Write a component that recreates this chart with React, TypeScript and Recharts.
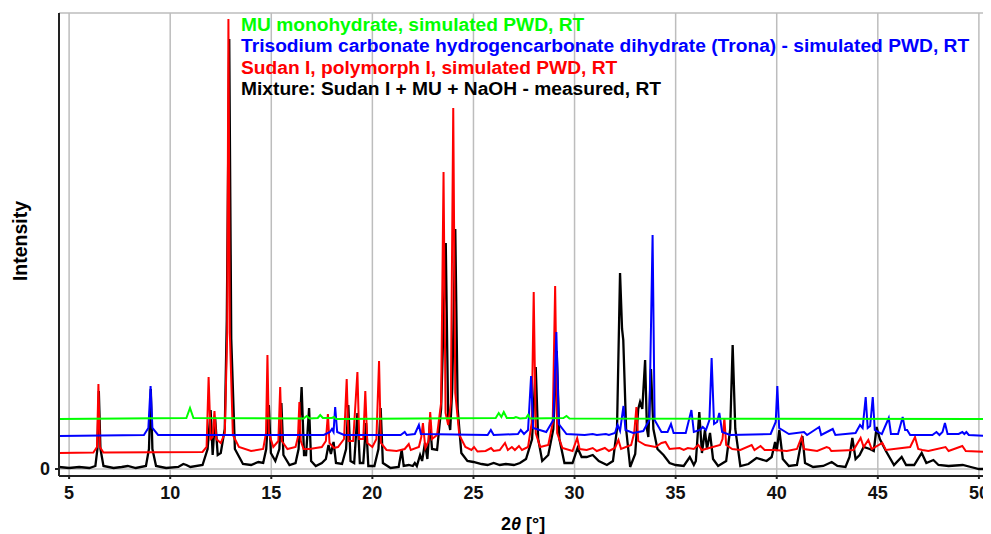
import { LineChart, Line, XAxis, YAxis, CartesianGrid } from "recharts";

// [2θ, intensity] pairs; each trace keeps its own zero
const mixturePeaks: number[][] = [
  [4.5, 2], [5.0, 1], [5.5, 2], [6.0, 1], [6.3, 3], [6.4, 20], [6.47, 78], [6.55, 20], [6.7, 3],
  [7.2, 1], [7.6, 2], [7.9, 3], [8.3, 1], [8.8, 3], [8.95, 20], [9.04, 80], [9.12, 20], [9.3, 3],
  [9.8, 1], [10.4, 2], [10.65, 5], [10.8, 4], [11.0, 2], [11.6, 4], [11.85, 20], [12.0, 59],
  [12.1, 14], [12.22, 52], [12.35, 14], [12.5, 16], [12.7, 40], [12.8, 150], [12.92, 430],
  [13.02, 130], [13.2, 20], [13.6, 5], [14.0, 4], [14.36, 7], [14.6, 6], [14.75, 20], [14.88, 64],
  [14.98, 16], [15.2, 8], [15.4, 20], [15.5, 66], [15.6, 14], [15.9, 4], [16.2, 6], [16.35, 20],
  [16.5, 82], [16.62, 14], [16.72, 14], [16.87, 61], [16.97, 8], [17.2, 3], [17.5, 6], [17.7, 10],
  [17.83, 24], [17.95, 15], [18.08, 27], [18.2, 6], [18.5, 5], [18.7, 20], [18.81, 64], [18.92, 8],
  [19.1, 6], [19.26, 56], [19.38, 6], [19.55, 6], [19.69, 46], [19.8, 3], [20.1, 3], [20.3, 20],
  [20.41, 61], [20.52, 6], [20.9, 1], [21.3, 2], [21.45, 19], [21.55, 3], [21.8, 4], [22.0, 3],
  [22.1, 6], [22.2, 3], [22.36, 14], [22.46, 8], [22.6, 26], [22.72, 10], [22.85, 47], [22.95, 20],
  [23.2, 19], [23.4, 60], [23.63, 226], [23.75, 50], [23.85, 39], [23.95, 80], [24.1, 240],
  [24.22, 60], [24.4, 16], [24.7, 8], [25.0, 7], [25.4, 5], [25.7, 4], [26.0, 6], [26.3, 4],
  [26.6, 5], [27.0, 4], [27.3, 6], [27.6, 10], [27.9, 30], [28.08, 102], [28.2, 30], [28.4, 8],
  [28.7, 14], [28.95, 40], [29.12, 118], [29.25, 30], [29.5, 6], [29.9, 6], [30.15, 21],
  [30.35, 12], [30.6, 12], [30.9, 14], [31.2, 8], [31.6, 4], [31.9, 8], [32.1, 40], [32.25, 196],
  [32.35, 140], [32.41, 129], [32.55, 40], [32.75, 2], [33.0, 15], [33.15, 60], [33.24, 67],
  [33.35, 60], [33.49, 109], [33.58, 40], [33.65, 32], [33.78, 100], [33.9, 40], [34.1, 20],
  [34.4, 14], [34.7, 6], [35.0, 4], [35.4, 3], [35.7, 12], [35.9, 4], [36.0, 8], [36.17, 57],
  [36.3, 16], [36.45, 39], [36.55, 20], [36.7, 36], [36.85, 10], [37.1, 3], [37.5, 8], [37.7, 40],
  [37.82, 124], [37.95, 40], [38.2, 3], [38.6, 5], [39.0, 11], [39.5, 8], [39.75, 12], [39.92, 27],
  [40.0, 18], [40.13, 39], [40.3, 10], [40.6, 3], [41.0, 4], [41.27, 33], [41.4, 6], [41.8, 2],
  [42.3, 3], [42.72, 7], [43.0, 3], [43.4, 2], [43.6, 12], [43.74, 31], [43.9, 10], [44.1, 14],
  [44.3, 22], [44.6, 20], [44.8, 18], [44.94, 42], [45.1, 30], [45.4, 18], [45.8, 4], [46.18, 12],
  [46.4, 4], [46.8, 4], [47.17, 16], [47.4, 6], [47.75, 9], [48.0, 4], [48.5, 3], [49.2, 4],
  [49.6, 2], [50.0, 0], [50.45, 0],
];

const sudanPeaks: number[][] = [
  [4.5, 0], [6.2, 0.5], [6.38, 6], [6.45, 69], [6.52, 6], [6.7, 0.5], [11.6, 1], [11.8, 6],
  [11.9, 76], [12.0, 14], [12.1, 16], [12.19, 42], [12.28, 14], [12.5, 10], [12.7, 20],
  [12.82, 120], [12.88, 434], [12.95, 120], [13.1, 18], [13.4, 6], [14.0, 2], [14.6, 4],
  [14.74, 20], [14.81, 98], [14.88, 20], [15.1, 6], [15.35, 12], [15.44, 66], [15.52, 12],
  [15.8, 4], [16.2, 6], [16.32, 16], [16.39, 51], [16.46, 12], [16.6, 4], [16.9, 4], [17.2, 5],
  [17.5, 6], [17.7, 12], [17.8, 39], [17.88, 10], [18.1, 5], [18.3, 6], [18.6, 14], [18.73, 74],
  [18.82, 12], [19.05, 12], [19.26, 81], [19.35, 14], [19.55, 14], [19.65, 62], [19.75, 10],
  [20.0, 6], [20.2, 14], [20.33, 92], [20.42, 10], [20.7, 3], [21.2, 2], [21.6, 4], [21.8, 9],
  [21.9, 3], [22.3, 6], [22.42, 16], [22.5, 30], [22.62, 5], [22.78, 12], [22.86, 41],
  [22.95, 14], [23.2, 18], [23.4, 50], [23.52, 281], [23.62, 40], [23.75, 28], [23.88, 50],
  [24.0, 345], [24.1, 60], [24.3, 18], [24.6, 6], [24.9, 3], [25.03, 6], [25.2, 1.5], [25.6, 2],
  [25.87, 5], [26.0, 2], [26.3, 3], [26.56, 10], [26.7, 3], [26.9, 6], [27.05, 3], [27.25, 7],
  [27.4, 3], [27.7, 6], [27.88, 30], [27.98, 161], [28.08, 20], [28.3, 6], [28.7, 8], [28.92, 30],
  [29.04, 167], [29.14, 20], [29.4, 5], [29.9, 2], [30.13, 15], [30.25, 4], [30.6, 3], [30.9, 5],
  [31.1, 2], [31.5, 5], [31.7, 2], [32.0, 5], [32.17, 13], [32.3, 4], [32.8, 8], [32.95, 20],
  [33.06, 46], [33.15, 12], [33.5, 8], [34.0, 6], [34.3, 10], [34.5, 11], [34.7, 4], [35.2, 5],
  [35.4, 3], [35.6, 5], [35.9, 4], [36.12, 8], [36.3, 3], [37.2, 8], [37.32, 14], [37.41, 35],
  [37.5, 8], [37.8, 4], [38.2, 3], [38.76, 8], [38.9, 3], [39.2, 7], [39.4, 3], [39.9, 3],
  [40.5, 2], [41.0, 4], [41.23, 16], [41.35, 4], [42.0, 2], [42.47, 6], [42.6, 5], [42.7, 2],
  [43.8, 3], [44.15, 15], [44.3, 6], [44.53, 13], [44.7, 4], [45.22, 10], [45.4, 3], [46.6, 6],
  [46.84, 16], [47.0, 4], [47.2, 3], [47.5, 2], [48.35, 6], [48.5, 2], [49.18, 7], [49.35, 2],
  [50.45, 1],
];

const tronaPeaks: number[][] = [
  [4.5, 0], [8.7, 1], [8.92, 8], [9.03, 50], [9.12, 8], [9.4, 1], [17.6, 1], [17.9, 4], [18.0, 7],
  [18.08, 4], [18.16, 29], [18.26, 4], [18.6, 1], [21.4, 1], [21.6, 4], [21.7, 1], [22.1, 2],
  [22.3, 11], [22.4, 2], [25.7, 1], [25.86, 6], [26.0, 1], [27.2, 2], [27.34, 6], [27.5, 2],
  [27.7, 6], [27.85, 60], [27.95, 8], [28.6, 4], [28.95, 16], [29.1, 104], [29.22, 12], [29.6, 2],
  [30.5, 1], [30.9, 2], [31.1, 1], [31.55, 2], [31.7, 1], [32.0, 3], [32.13, 11], [32.25, 5],
  [32.42, 30], [32.52, 6], [32.9, 3], [33.4, 5], [33.7, 16], [33.86, 201], [33.96, 16], [34.3, 4],
  [34.6, 4], [34.77, 12], [34.9, 3], [35.5, 3], [35.78, 26], [35.9, 4], [36.2, 6], [36.34, 9],
  [36.5, 6], [36.67, 16], [36.78, 78], [36.9, 12], [37.05, 14], [37.16, 23], [37.3, 4], [37.7, 1],
  [39.7, 2], [39.95, 14], [40.03, 50], [40.12, 8], [40.6, 2], [41.35, 4], [41.5, 1], [42.1, 9],
  [42.2, 1], [42.77, 7], [42.9, 1], [43.9, 3], [44.12, 11], [44.25, 8], [44.4, 39], [44.5, 8],
  [44.62, 10], [44.75, 39], [44.85, 6], [45.2, 2], [45.54, 18], [45.65, 2], [46.0, 2], [46.23, 19],
  [46.35, 6], [46.45, 6], [46.6, 1], [47.7, 1], [47.9, 4], [48.05, 1], [48.2, 4], [48.32, 13],
  [48.45, 2], [49.0, 2], [49.18, 4], [49.28, 2], [49.38, 4], [49.5, 1], [50.45, 0],
];

const muPeaks: number[][] = [
  [4.5, 0], [10.8, 1], [10.98, 11], [11.15, 1], [16.6, 0.5], [16.75, 3], [16.9, 0.5], [17.3, 1],
  [17.42, 4], [17.55, 1], [18.0, 1], [18.1, 2], [18.2, 0], [26.1, 1], [26.25, 6], [26.38, 2],
  [26.5, 7], [26.65, 1], [27.0, 1], [27.1, 2], [27.3, 0.5], [27.6, 1], [27.7, 4], [27.8, 0.5],
  [29.45, 1], [29.6, 3], [29.75, 0.5], [50.45, 0],
];

// vertical stacking of the traces
const traceOffsets = [0, 16, 33, 50];
const traceColors = ["#000000", "#ff0000", "#0000ff", "#00ff00"];
const legendLabels = [
  "MU monohydrate, simulated PWD, RT",
  "Trisodium carbonate hydrogencarbonate dihydrate (Trona) - simulated PWD, RT",
  "Sudan I, polymorph I, simulated PWD, RT",
  "Mixture: Sudan I + MU + NaOH - measured, RT",
];
const legendColors = ["#00ff00", "#0000ff", "#ff0000", "#000000"];
const xTicks = [5, 10, 15, 20, 25, 30, 35, 40, 45, 50];

const FONT = "'Liberation Sans', Arial, sans-serif";

const toRows = (pts: number[][], offset: number) =>
  pts.map(([x, y]) => ({ x, y: y + offset }));

export default function App() {
  const series = [mixturePeaks, sudanPeaks, tronaPeaks, muPeaks].map((p, i) =>
    toRows(p, traceOffsets[i])
  );

  return (
    <div style={{ position: "relative", width: 983, height: 526, fontFamily: FONT }}>
      <LineChart width={983} height={526} margin={{ top: 5, right: 3, left: 0, bottom: 18 }}>
        <CartesianGrid stroke="#bdbdbd" strokeWidth={1.5} />
        <XAxis
          type="number"
          dataKey="x"
          domain={[4.5, 50.45]}
          ticks={xTicks}
          allowDataOverflow
          height={40}
          stroke="#222"
          strokeWidth={2}
          tickSize={3}
          tickMargin={7}
          tick={{ fontSize: 18, fontWeight: "bold", fill: "#111", fontFamily: FONT }}
        />
        <YAxis
          type="number"
          domain={[-7, 456]}
          ticks={[0]}
          allowDataOverflow
          width={51}
          stroke="#222"
          strokeWidth={2}
          tickSize={4}
          tickMargin={5}
          tick={{ fontSize: 18, fontWeight: "bold", fill: "#111", fontFamily: FONT }}
        />
        {series.map((rows, i) => (
          <Line
            key={i}
            data={rows}
            dataKey="y"
            type="linear"
            stroke={traceColors[i]}
            strokeWidth={i === 0 ? 2.3 : 2}
            dot={false}
            activeDot={false}
            isAnimationActive={false}
          />
        ))}
      </LineChart>

      <svg
        width={983}
        height={526}
        style={{ position: "absolute", left: 0, top: 0, pointerEvents: "none" }}
      >
        <text
          x={12}
          y={233}
          transform="rotate(-90 12 233)"
          textAnchor="middle"
          dominantBaseline="central"
          fontSize={19.5}
          fontWeight="bold"
          fontFamily={FONT}
        >
          Intensity
        </text>
        <text
          x={515}
          y={516}
          textAnchor="middle"
          dominantBaseline="central"
          fontSize={18}
          fontWeight="bold"
          fontFamily={FONT}
        >
          2<tspan fontStyle="italic">θ</tspan> [°]
        </text>
      </svg>

      <div
        style={{
          position: "absolute",
          left: 233,
          top: 5.5,
          fontSize: 19.2,
          lineHeight: "21.5px",
          fontWeight: "bold",
          whiteSpace: "nowrap",
        }}
      >
        {legendLabels.map((label, i) => (
          <div key={label} style={{ color: legendColors[i] }}>
            {label}
          </div>
        ))}
      </div>
    </div>
  );
}
